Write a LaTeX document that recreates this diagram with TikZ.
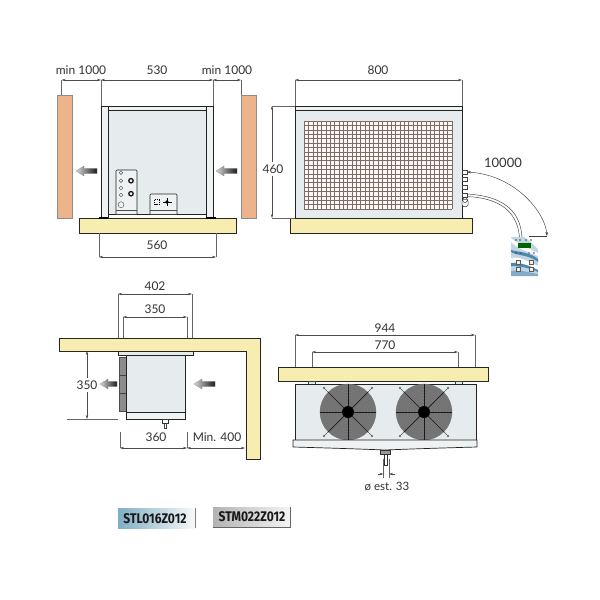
\documentclass[tikz,border=0pt]{standalone}
\usepackage{fontspec}
\setmainfont{Lato}
\newfontfamily\codefont{Fira Sans}
\usetikzlibrary{arrows.meta}
\definecolor{wallc}{HTML}{EDB48C}
\definecolor{slabc}{HTML}{F8EDB0}
\definecolor{bodyc}{HTML}{E6ECEE}
\definecolor{postc}{HTML}{EEF2F3}
\definecolor{linec}{HTML}{222222}
\definecolor{gridc}{HTML}{7A6C68}
\definecolor{padc}{HTML}{BFD6E4}
\definecolor{padd}{HTML}{4E86B0}
\definecolor{tagblue}{HTML}{7FAFC4}
\tikzset{
  every node/.style={font=\fontsize{12}{12}\selectfont, text=black!80, inner sep=0.5pt},
  dimline/.style={draw=black!70, line width=0.45pt, {Stealth[length=4pt,width=2.4pt]}-{Stealth[length=4pt,width=2.4pt]}},
  extline/.style={draw=black!60, line width=0.4pt},
  wallbox/.style={fill=wallc, draw=black!45, line width=0.4pt},
  slabbox/.style={fill=slabc, draw=black!85, line width=0.6pt},
  bodybox/.style={fill=bodyc, draw=linec, line width=0.6pt},
  postbox/.style={fill=postc, draw=linec, line width=0.6pt},
  thinbox/.style={fill=white, draw=black!75, line width=0.5pt},
  codetag/.style={font=\codefont\bfseries\fontsize{14}{14}\selectfont, text=black!90}
}
% grey flow arrow, head pointing left, head x = #1, tail x = #2, y = #3
\newcommand{\flowarrow}[3]{%
  \path[left color=black!15, right color=black!90, draw=black!45, line width=0.3pt]
    (#1,#3) -- ({#1+8},{#3-5}) -- ({#1+8},{#3-2.7}) -- (#2,{#3-2.7}) -- (#2,{#3+2.7}) -- ({#1+8},{#3+2.7}) -- ({#1+8},{#3+5}) -- cycle;}
% axial fan centred on a named coordinate
\newcommand{\axialfan}[1]{%
  \foreach \a in {45,135,225,315} {
    \draw[black!65, line width=0.5pt] (#1) -- ++(\a:34);
    \fill[black!60] (#1) ++(\a:34) circle (1.2);
  }
  \fill[black!52] (#1) circle (28);
  \foreach \r in {7,8.5,...,28} \draw[black!60, line width=0.25pt] (#1) circle (\r);
  \foreach \a in {0,45,...,315} {
    \draw[black!90, line width=0.7pt] (#1) -- ++(\a:28);
  }
  \fill[black] (#1) circle (6);}
\begin{document}
\begin{tikzpicture}[x=1pt,y=-1pt]
\useasboundingbox[fill=white] (0,0) rectangle (600,600);

% ===== top-left view =====
\draw[wallbox] (57.5,95) rectangle (72,218);
\draw[wallbox] (241,95) rectangle (256,218);
\draw[slabbox] (79,218) rectangle (236,233);
\fill[bodyc] (108,110) rectangle (206,214);
\draw[bodybox] (108,213) -- (108,110) -- (206,110) -- (206,213);
\draw[postbox] (101,106) rectangle (213,110);
\draw[postbox] (101,106) rectangle (108,218);
\draw[postbox] (206,106) rectangle (213,218);
\draw[linec, line width=0.5pt] (108,214) -- (206,214);
\fill[black] (99,217) rectangle (108,218.5);
\fill[black] (206,217) rectangle (216,218.5);
% control box 1
\draw[postbox, rounded corners=1pt] (116,214) -- (116,170) -- (137,170) -- (137,214);
\draw[black!70, line width=0.4pt] (116,210) -- (137,210);
\foreach \y in {172.7,180.7,188,195} \draw[black!70, line width=0.4pt] (121,\y) circle (1.8);
\draw[black!70, line width=0.4pt] (121,204.7) circle (3);
\draw[black!90, line width=1.3pt] (131,180.7) circle (2.2);
\draw[black!90, line width=1.3pt] (131,193.7) circle (2.2);
% control box 2
\draw[postbox, rounded corners=1pt] (150,214) -- (150,194) -- (177,194) -- (177,214);
\draw[black!70, line width=0.4pt] (150,210) -- (177,210);
\draw[black, line width=1pt, dash pattern=on 1.5pt off 0.8pt] (154.5,199.5) rectangle (159.5,204.5);
\draw[black, line width=0.8pt] (163,202) -- (172,202);
\draw[black, line width=0.8pt] (167,198) -- (167,206);
\fill[black] (167,202) circle (1.8);

\flowarrow{76}{97}{171}
\flowarrow{216}{237}{171}

\draw[extline] (61.5,80) -- (61.5,95);
\draw[extline] (101,80) -- (101,106);
\draw[extline] (213,80) -- (213,106);
\draw[extline] (241,80) -- (241,95);
\coordinate (da) at (61.5,80); \coordinate (db) at (101,80);
\coordinate (dc) at (213,80); \coordinate (dd) at (241,80);
\draw[dimline] (da) -- (db);
\draw[dimline] (db) -- (dc);
\draw[dimline] (dc) -- (dd);
\node (ta) at (81,70) {min 1000};
\node (tb) at (157,70) {530};
\node (tc) at (227,70) {min 1000};
\coordinate (de) at (99,257); \coordinate (df) at (216,257);
\draw[extline] (99,233) -- (de);
\draw[extline] (216,233) -- (df);
\draw[dimline] (de) -- (df);
\node (td) at (157,245) {560};

% ===== top-right view =====
\draw[slabbox] (290,218) rectangle (472,233);
\draw[bodybox] (295,110) rectangle (462,218);
\draw[postbox] (295,106) rectangle (462,110);
\fill[white!88!wallc] (304,121) rectangle (452,209);
\foreach \i in {0,...,34} \draw[gridc, line width=0.4pt] ({304+\i*148/34},121) -- ({304+\i*148/34},209);
\foreach \j in {0,...,20} \draw[gridc, line width=0.4pt] (304,{121+\j*88/20}) -- (452,{121+\j*88/20});
\foreach \y in {172,179,187,195} \draw[thinbox] (462,{\y-2.2}) rectangle (467,{\y+2.2});
\draw[thinbox, rounded corners=1.5pt] (462,199.5) rectangle (468,206.5);
\draw[black!80, line width=0.5pt] (465,200) circle (2.5);

\coordinate (dg) at (295,80); \coordinate (dh) at (462,80);
\draw[extline] (dg) -- (295,106);
\draw[extline] (dh) -- (462,106);
\draw[dimline] (dg) -- (dh);
\node (te) at (378,70) {800};
\coordinate (di) at (272,106); \coordinate (dj) at (272,218);
\draw[extline] (di) -- (295,106);
\draw[extline] (dj) -- (295,218);
\draw[dimline] (di) -- (dj);
\node[fill=white, inner ysep=3pt] (tf) at (273,169) {460};
\node (tg) at (503,163) {\fontsize{13}{13}\selectfont 10000};

% keypad
\fill[padc] (511,237) rectangle (538,276);
\begin{scope}
\clip (511,237) rectangle (538,276);
\fill[white] (524,237) .. controls (532,242) and (535,246) .. (538,249) -- (538,237) -- cycle;
\fill[white] (511,242) .. controls (516,248) and (528,252) .. (538,256) -- (538,253) .. controls (528,248) and (518,244) .. (511,238) -- cycle;
\fill[padd] (511,252) .. controls (518,256) and (530,255) .. (538,262) -- (538,259) .. controls (530,252) and (518,252) .. (511,250) -- cycle;
\fill[white] (511,258) .. controls (520,256) and (530,262) .. (538,266) -- (538,270) .. controls (530,266) and (520,262) .. (511,263) -- cycle;
\fill[padd] (511,263) .. controls (520,262) and (530,266) .. (538,270) -- (538,272) .. controls (530,268) and (520,266) .. (511,266) -- cycle;
\fill[padd!70!white] (511,271) .. controls (520,269) and (530,273) .. (538,274) -- (538,276) -- (511,276) -- cycle;
\end{scope}
\fill[green!40!black] (518,243) rectangle (531,248);
\foreach \x/\y in {516/240,520/240,526/240,531/240,516/253,521/253,529/253,534/253} \fill[black!70] (\x,\y) circle (0.8);
\foreach \x/\y in {518/262,531/262,518/269,531/269} \draw[fill=white!75!wallc, draw=black!65, line width=0.45pt] ({\x-1.8},{\y-1.8}) rectangle ({\x+1.8},{\y+1.8});

\coordinate (ca) at (467,172); \coordinate (cb) at (547,236);
\draw[draw=black!75, line width=0.45pt, {Stealth[length=4pt,width=2.6pt]}-{Stealth[length=4pt,width=2.6pt]}] (ca) .. controls (515,175) and (545,212) .. (cb);
\draw[black!75, line width=0.45pt] (529,236) -- (cb);
\draw[black!70, line width=0.5pt] (467,194) .. controls (500,196) and (520,208) .. (522,237);
\draw[black!70, line width=0.5pt] (467,196.5) .. controls (498,198) and (517,210) .. (519.5,237);

% ===== bottom-left view =====
\draw[slabbox] (59,338) -- (260,338) -- (260,459) -- (246,459) -- (246,351) -- (59,351) -- cycle;
\draw[fill=bodyc, draw=linec, line width=0.5pt] (118,351) rectangle (193,355);
\draw[fill=black!45, draw=black!70, line width=0.4pt] (119,357) rectangle (126,411);
\draw[black!75, line width=0.4pt] (119,375) -- (126,375);
\draw[black!75, line width=0.4pt] (119,393) -- (126,393);
\draw[bodybox] (126,355) rectangle (185,412);
\draw[postbox] (126,412) rectangle (185,419);
\draw[thinbox] (164,419) rectangle (166.5,428);
\draw[fill=white, draw=black!80, line width=0.5pt] (162,419) rectangle (168,423);
\flowarrow{100}{117}{384}
\flowarrow{194}{215}{384}

\coordinate (dk) at (118,294); \coordinate (dl) at (192,294);
\draw[extline] (dk) -- (118,338);
\draw[extline] (dl) -- (192,338);
\draw[dimline] (dk) -- (dl);
\node (th) at (155,286) {402};
\coordinate (dm) at (123,317); \coordinate (dn) at (187,317);
\draw[extline] (dm) -- (123,338);
\draw[extline] (dn) -- (187,338);
\draw[dimline] (dm) -- (dn);
\node (ti) at (155,309) {350};
\coordinate (dp) at (87,351); \coordinate (dq) at (87,419);
\draw[dimline] (dp) -- (dq);
\draw[extline] (67,419) -- (118,419);
\node[fill=white, inner ysep=3pt] (tj) at (87,385) {350};
\coordinate (dr) at (120,448); \coordinate (ds) at (187,448); \coordinate (dt) at (245,448);
\draw[extline] (120,432) -- (dr);
\draw[extline] (187,432) -- (ds);
\draw[dimline] (dr) -- (ds);
\draw[dimline] (ds) -- (dt);
\node (tk) at (156,437) {360};
\node (tl) at (217,437) {Min. 400};

% ===== bottom-right view =====
\draw[slabbox] (278,367) rectangle (488,381);
\draw[thinbox, fill=bodyc] (308,381) rectangle (315,385);
\draw[thinbox, fill=bodyc] (455,381) rectangle (462,385);
\draw[bodybox] (295,384) rectangle (476,440);
\coordinate (fa) at (348,412); \coordinate (fb) at (424,412);
\axialfan{fa}
\axialfan{fb}
\draw[postbox, line width=0.7pt] (293,440) -- (477,440) -- (477,447) .. controls (440,448) and (410,449) .. (385,450) .. controls (360,449) and (330,448) .. (293,447) -- cycle;
\draw[fill=white, draw=black!80, line width=0.5pt] (384,454) rectangle (387,465);
\draw[fill=black!40, draw=black!80, line width=0.5pt] (380.5,450) rectangle (390,454);

\coordinate (du) at (295,335); \coordinate (dv) at (475,335);
\draw[extline] (du) -- (295,367);
\draw[extline] (dv) -- (475,367);
\draw[dimline] (du) -- (dv);
\node (tm) at (385,328) {944};
\coordinate (dw) at (312,352); \coordinate (dx) at (458,352);
\draw[extline] (dw) -- (312,367);
\draw[extline] (dx) -- (458,367);
\draw[dimline] (dw) -- (dx);
\node (tn) at (385,345) {770};
\coordinate (dy) at (383.5,474); \coordinate (dz) at (389,474);
\draw[extline] (383.5,459) -- (383.5,478);
\draw[extline] (389,459) -- (389,478);
\coordinate (dya) at (378,474); \coordinate (dza) at (395,474);
\draw[black!70, line width=0.45pt, -{Stealth[length=4pt,width=2.4pt]}] (dya) -- (dy);
\draw[black!70, line width=0.45pt, -{Stealth[length=4pt,width=2.4pt]}] (dza) -- (dz);
\node (to) at (387,487) {\fontsize{11.5}{11.5}\selectfont ø est. 33};

% ===== model tags =====
\shade[left color=tagblue, right color=white!95!gray] (118,508) rectangle (195,528);
\draw[black!50, line width=0.8pt] (195.5,508) -- (195.5,528);
\node[codetag] (tp) at (155,519) {\scalebox{0.86}[1]{STL016Z012}};
\shade[left color=black!30, right color=black!4] (213,507) rectangle (290,527);
\draw[black!60, line width=0.7pt] (213,527.5) -- (290,527.5) -- (290,507);
\node[codetag] (tq) at (252,517) {\scalebox{0.86}[1]{STM022Z012}};
\end{tikzpicture}
\end{document}
